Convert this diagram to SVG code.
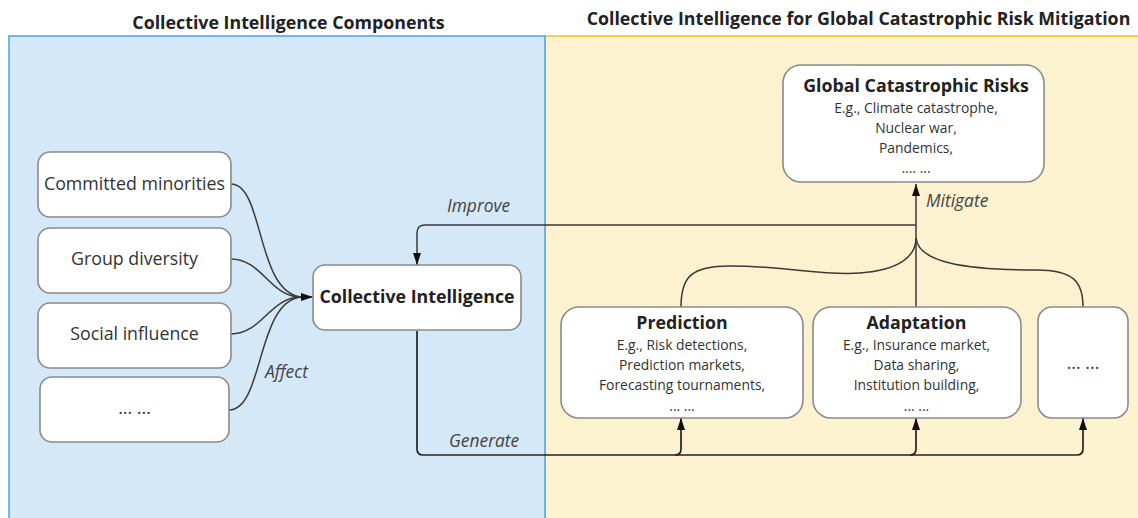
<svg xmlns="http://www.w3.org/2000/svg" width="1138" height="518" viewBox="0 0 1138 518">
<style>
.title{font-family:"Open Sans","Liberation Sans",sans-serif;font-weight:bold;font-size:17.8px;fill:#222;text-anchor:middle}
.box{fill:#fff;stroke:#8a8a8a;stroke-width:1.6}
.lbl{font-family:"Open Sans","Liberation Sans",sans-serif;font-size:17.8px;fill:#333;text-anchor:middle}
.hd{font-family:"Open Sans","Liberation Sans",sans-serif;font-size:17.8px;font-weight:bold;fill:#222;text-anchor:middle}
.sub{font-family:"Open Sans","Liberation Sans",sans-serif;font-size:13.9px;fill:#333;text-anchor:middle}
.it{font-family:"Open Sans","Liberation Sans",sans-serif;font-size:17.4px;font-style:italic;fill:#444}
.c{fill:none;stroke:#3a3a3a;stroke-width:1.5}
.g{stroke:#222;stroke-width:1.7}
</style>
<defs>
<marker id="ah" viewBox="0 0 12 8" refX="12" refY="4" markerWidth="12" markerHeight="8" markerUnits="userSpaceOnUse" orient="auto">
<path d="M0,0 L12,4 L0,8 Z" fill="#111"/>
</marker>
</defs>
<rect width="1138" height="518" fill="#fff"/>
<g id="panels">
<rect x="545" y="36" width="600" height="490" fill="#fdf2d0" stroke="#f5c226" stroke-width="1.5"/>
<rect x="9" y="36" width="536" height="490" fill="#d5e8f8" stroke="#4ba3e6" stroke-width="1.5"/>
<text class="title" x="288.5" y="29">Collective Intelligence Components</text>
<text class="title" x="858.5" y="25">Collective Intelligence for Global Catastrophic Risk Mitigation</text>
</g>
<g id="connectors">
<path class="c" d="M231,184 C264,184 256,292 301,297"/>
<path class="c" d="M231,259 C262,259 270,297 301,297"/>
<path class="c" d="M231,334 C262,334 270,297 301,297"/>
<path class="c" d="M229,410 C264,410 256,302 301,297"/>
<path class="c" d="M298,297 L313,297" marker-end="url(#ah)"/>
<path class="c" d="M916,307 L916,184" marker-end="url(#ah)"/>
<path class="c" d="M916,225 L425,225 Q417,225 417,233 L417,265" marker-end="url(#ah)"/>
<path class="c" d="M681,307 C681,276 692,266 730,266 C790,266 820,276 860,273 C900,270 916,256 916,238"/>
<path class="c" d="M1083,307 C1083,282 1074,270 1036,270 C964,270 918,262 916,238"/>
<path class="c g" d="M417,331 L417,449 Q417,455 423,455 L1077,455 Q1083,455 1083,449 L1083,418" marker-end="url(#ah)"/>
<path class="c g" d="M675,455 Q681,455 681,449 L681,418" marker-end="url(#ah)"/>
<path class="c g" d="M910,455 Q916,455 916,449 L916,418" marker-end="url(#ah)"/>
<text class="it" x="447" y="212">Improve</text>
<text class="it" x="926" y="207">Mitigate</text>
<text class="it" x="265" y="378">Affect</text>
<text class="it" x="449" y="447">Generate</text>
</g>
<g id="n-committed"><rect class="box" x="38" y="152" width="193" height="65" rx="12"/><text class="lbl" x="134.5" y="190">Committed minorities</text></g>
<g id="n-diversity"><rect class="box" x="38" y="228" width="193" height="65" rx="12"/><text class="lbl" x="134.5" y="265">Group diversity</text></g>
<g id="n-influence"><rect class="box" x="38" y="303" width="193" height="65" rx="12"/><text class="lbl" x="134.5" y="340">Social influence</text></g>
<g id="n-more-left"><rect class="box" x="40" y="377" width="189" height="65" rx="12"/><text class="lbl" x="134.5" y="414">... ...</text></g>
<g id="n-ci"><rect class="box" x="313" y="265" width="208" height="65" rx="12"/><text class="hd" x="417" y="303">Collective Intelligence</text></g>
<g id="n-gcr"><rect class="box" x="783" y="65" width="261" height="117" rx="18"/>
<text class="hd" x="916" y="92">Global Catastrophic Risks</text>
<text class="sub" x="916" y="113">E.g., Climate catastrophe,</text>
<text class="sub" x="916" y="133">Nuclear war,</text>
<text class="sub" x="916" y="153">Pandemics,</text>
<text class="sub" x="916" y="173">.... ...</text></g>
<g id="n-prediction"><rect class="box" x="561" y="307" width="242" height="111" rx="18"/>
<text class="hd" x="682" y="329">Prediction</text>
<text class="sub" x="682" y="350">E.g., Risk detections,</text>
<text class="sub" x="682" y="370">Prediction markets,</text>
<text class="sub" x="682" y="390">Forecasting tournaments,</text>
<text class="sub" x="682" y="411">... ...</text></g>
<g id="n-adaptation"><rect class="box" x="813" y="307" width="208" height="111" rx="18"/>
<text class="hd" x="916.5" y="329">Adaptation</text>
<text class="sub" x="916.5" y="350">E.g., Insurance market,</text>
<text class="sub" x="916.5" y="370">Data sharing,</text>
<text class="sub" x="916.5" y="390">Institution building,</text>
<text class="sub" x="916.5" y="411">... ...</text></g>
<g id="n-more-right"><rect class="box" x="1038" y="307" width="90" height="111" rx="14"/><text class="lbl" x="1083" y="369">... ...</text></g>
</svg>
